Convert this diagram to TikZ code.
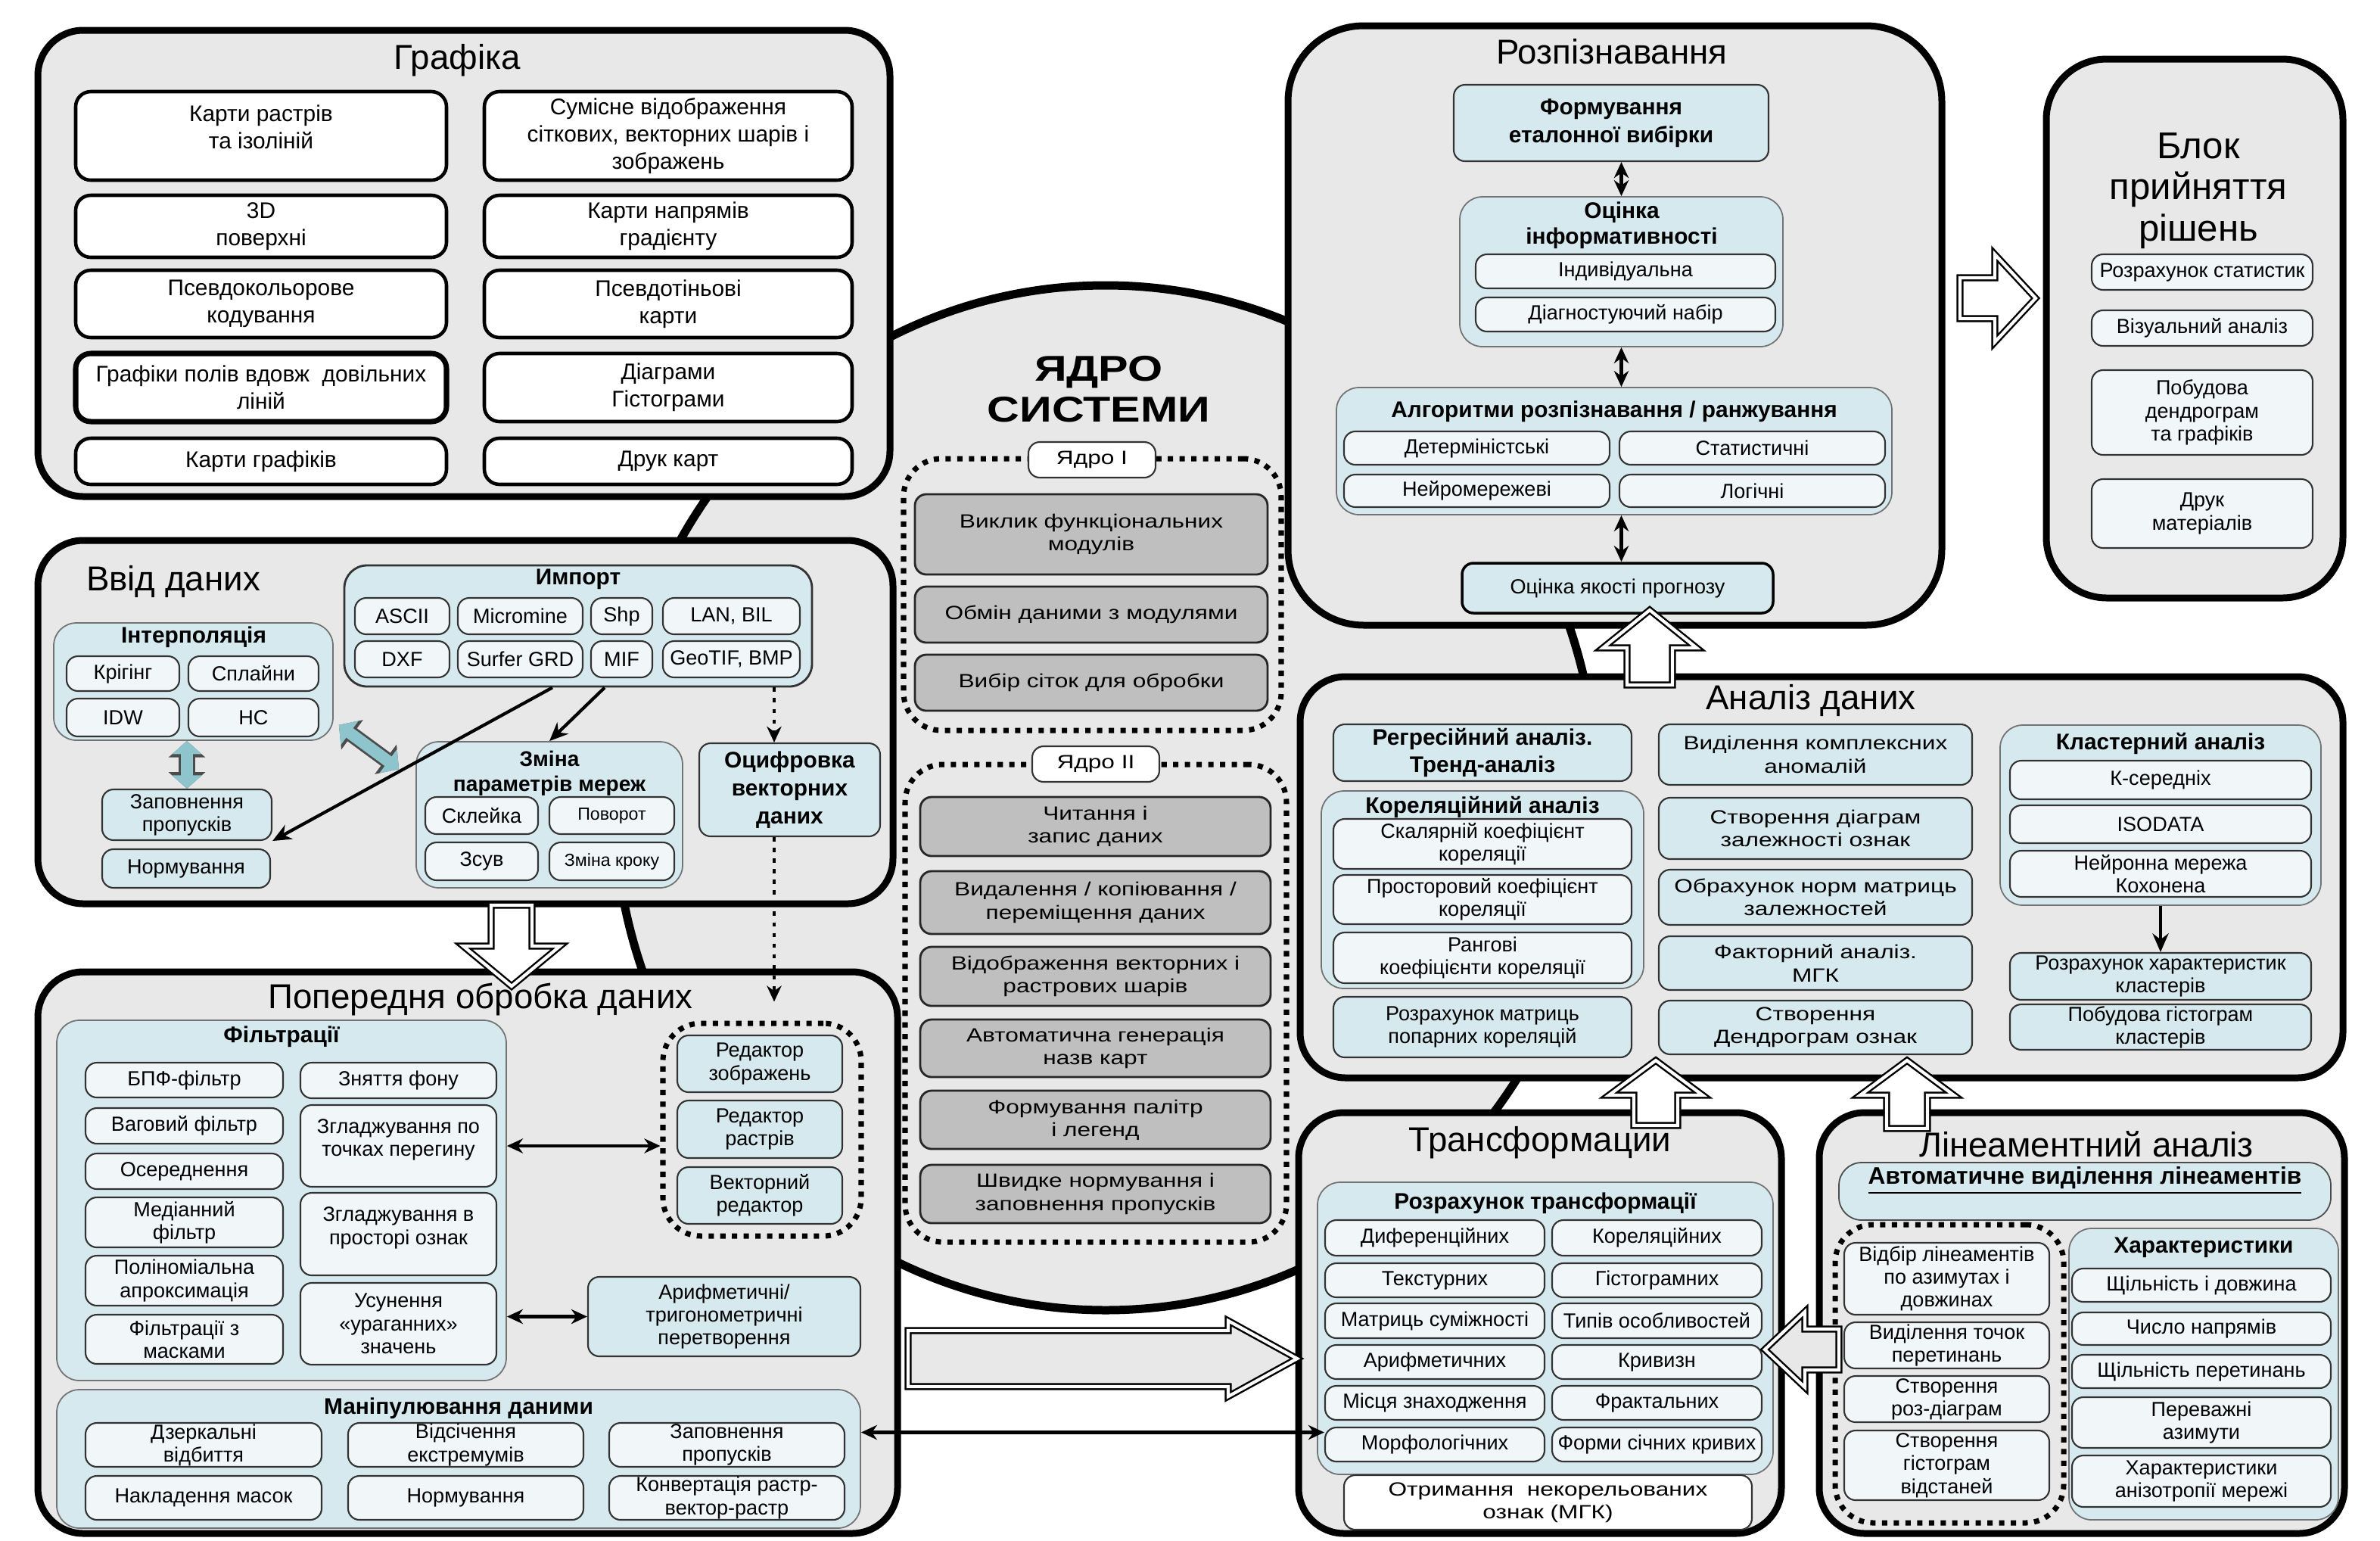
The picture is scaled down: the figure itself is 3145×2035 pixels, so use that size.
\documentclass[tikz,border=0pt]{standalone}
\usepackage{fontspec}
\setmainfont{Liberation Sans}
\newfontfamily\widefont[FakeStretch=1.25]{Liberation Sans}
\usetikzlibrary{arrows.meta,positioning,calc}

\definecolor{blockgray}{HTML}{E8E8E8}
\definecolor{tealbg}{HTML}{D5E9EE}
\definecolor{itembg}{HTML}{F1F7F9}
\definecolor{coregray}{HTML}{BFBFBF}
\definecolor{tealarr}{HTML}{8EC5CD}

\tikzset{
  xyspan/.style n args={4}{at={({(#1+#3)/2},{(#2+#4)/2})},
    minimum width={(#3-#1)*0.1mm}, minimum height={(#4-#2)*0.1mm}},
  block/.style={draw=black, line width=0.9mm, fill=blockgray, rounded corners=6mm, inner sep=0pt},
  ttl/.style={font=\fontsize{13}{15}\selectfont, inner sep=0pt},
  hd/.style={font=\bfseries\fontsize{8.5}{9.8}\selectfont, inner sep=0pt, align=center},
  gitem/.style={draw=black, line width=1.3pt, fill=white, rounded corners=2mm, inner sep=0pt,
    align=center, font=\fontsize{8.5}{10.2}\selectfont},
  grp/.style={draw=black!55, line width=0.5pt, fill=tealbg, rounded corners=3mm, inner sep=0pt},
  itm/.style={draw=black!80, line width=0.6pt, fill=itembg, rounded corners=1.5mm, inner sep=0pt,
    align=center, font=\fontsize{7.7}{8.6}\selectfont},
  tbx/.style={itm, fill=tealbg},
  wide/.style={font=\widefont\fontsize{7.2}{8.6}\selectfont},
  coreitm/.style={itm, wide, fill=coregray, draw=black!85, line width=0.8pt},
  dots/.style={draw=black, line width=2pt, dash pattern=on 2pt off 2.4pt, rounded corners=5mm, inner sep=0pt},
  arr/.style={line width=1.2pt, -{Stealth[length=7pt,width=6pt]}},
  darr/.style={line width=1.2pt, {Stealth[length=6pt,width=5.5pt]}-{Stealth[length=6pt,width=5.5pt]}},
  dotarr/.style={line width=1.2pt, dash pattern=on 1.6pt off 2.4pt, -{Stealth[length=6pt,width=5.5pt]}},
  hollow/.style={draw=black, line width=0.7pt, double=white, double distance=1.2pt, line join=miter},
  tealarrow/.style={draw=tealarr, line width=4.4pt,
    {Triangle[length=5pt,width=11pt]}-{Triangle[length=5pt,width=11pt]},
    preaction={draw=black!70, line width=6pt,
      {Triangle[length=6.2pt,width=13.5pt]}-{Triangle[length=6.2pt,width=13.5pt]}}},
}

\begin{document}
\begin{tikzpicture}[x=0.1mm, y=-0.1mm]
  \fill[white] (0,0) rectangle (3145,2035);
  \useasboundingbox (0,0) rectangle (3145,2035);

  % system core
  \draw[line width=1.1mm, fill=blockgray] (1461,1054) ellipse [x radius=65mm, y radius=67.7mm];

  % outer blocks
  \node[block, xyspan={50}{40}{1176}{656}] (graf) {};
  \node[block, xyspan={50}{714}{1180}{1194}] (vvid) {};
  \node[block, xyspan={50}{1284}{1186}{2026}] (pop) {};
  \node[block, rounded corners=10mm, xyspan={1702}{34}{2566}{826}] (rozp) {};
  \node[block, rounded corners=8mm, xyspan={2704}{78}{3096}{790}] (blok) {};
  \node[block, xyspan={1718}{894}{3096}{1424}] (anal) {};
  \node[block, xyspan={1716}{1470}{2354}{2026}] (trans) {};
  \node[block, xyspan={2404}{1470}{3098}{2026}] (lin) {};

  % core content
  \node[font=\widefont\bfseries\fontsize{13.5}{15.5}\selectfont, align=center, inner sep=0pt] (coreT) at (1452,514) {ЯДРО\\СИСТЕМИ};
  \node[dots, xyspan={1194}{606}{1693}{965}] (dI) {};
  \node[itm, wide, fill=white, xyspan={1359}{584}{1527}{631}] (dIl) {Ядро I};
  \node[coreitm, xyspan={1209}{653}{1675}{759}] (c1) {Виклик функціональних\\модулів};
  \node[coreitm, xyspan={1209}{775}{1675}{849}] (c2) {Обмін даними з модулями};
  \node[coreitm, xyspan={1209}{865}{1675}{939}] (c3) {Вибір сіток для обробки};
  \node[dots, xyspan={1196}{1010}{1700}{1641}] (dII) {};
  \node[itm, wide, fill=white, xyspan={1364}{986}{1532}{1033}] (dIIl) {Ядро II};
  \node[coreitm, xyspan={1216}{1053}{1679}{1131}] (c4) {Читання і\\запис даних};
  \node[coreitm, xyspan={1216}{1151}{1679}{1234}] (c5) {Видалення / копіювання /\\переміщення даних};
  \node[coreitm, xyspan={1216}{1251}{1679}{1329}] (c6) {Відображення векторних і\\растрових шарів};
  \node[coreitm, xyspan={1216}{1347}{1679}{1423}] (c7) {Автоматична генерація\\назв карт};
  \node[coreitm, xyspan={1216}{1441}{1679}{1518}] (c8) {Формування палітр\\і легенд};
  \node[coreitm, xyspan={1216}{1539}{1679}{1616}] (c9) {Швидке нормування і\\заповнення пропусків};

  % graphics
  \node[ttl] (grafT) at (604,80) {Графіка};
  \node[gitem, xyspan={100}{121}{590}{238}] (g1) {Карти растрів\\та ізоліній\\[-3.4pt]};
  \node[gitem, xyspan={640}{121}{1126}{238}] (g2) {Сумісне відображення\\сіткових, векторних шарів і\\зображень};
  \node[gitem, xyspan={100}{258}{590}{340}] (g3) {3D\\поверхні};
  \node[gitem, xyspan={640}{258}{1126}{340}] (g4) {Карти напрямів\\градієнту};
  \node[gitem, xyspan={100}{357}{590}{446}] (g5) {Псевдокольорове\\кодування};
  \node[gitem, xyspan={640}{357}{1126}{446}] (g6) {Псевдотіньові\\карти};
  \node[gitem, line width=2pt, xyspan={100}{467}{590}{557}] (g7) {Графіки полів вдовж~~довільних\\ліній};
  \node[gitem, xyspan={640}{467}{1126}{557}] (g8) {Діаграми\\Гістограми};
  \node[gitem, xyspan={100}{579}{590}{640}] (g9) {Карти графіків};
  \node[gitem, xyspan={640}{579}{1126}{640}] (g10) {Друк карт};

  % data input
  \node[ttl] (vvidT) at (229,768) {Ввід даних};
  \node[grp, draw=black!80, line width=0.8pt, xyspan={455}{747}{1073}{907}] (imp) {};
  \node[hd] (impT) at (764,765) {Импорт};
  \node[itm, xyspan={469}{790}{594}{838}] (i1) {ASCII};
  \node[itm, xyspan={605}{790}{770}{838}] (i2) {Micromine};
  \node[itm, xyspan={781}{790}{862}{838}] (i3) {Shp};
  \node[itm, xyspan={876}{790}{1057}{838}] (i4) {LAN, BIL};
  \node[itm, xyspan={469}{847}{594}{895}] (i5) {DXF};
  \node[itm, xyspan={605}{847}{770}{895}] (i6) {Surfer GRD};
  \node[itm, xyspan={781}{847}{862}{895}] (i7) {MIF};
  \node[itm, xyspan={876}{847}{1057}{895}] (i8) {GeoTIF, BMP};
  \node[grp, xyspan={71}{823}{440}{978}] (int) {};
  \node[hd] (intT) at (256,842) {Інтерполяція};
  \node[itm, xyspan={88}{867}{237}{913}] (k1) {Крігінг};
  \node[itm, xyspan={249}{867}{421}{913}] (k2) {Сплайни};
  \node[itm, xyspan={88}{923}{237}{973}] (k3) {IDW};
  \node[itm, xyspan={249}{923}{421}{973}] (k4) {НС};
  \node[tbx, xyspan={135}{1043}{359}{1110}] (zap) {Заповнення\\пропусків};
  \node[tbx, xyspan={135}{1122}{357}{1173}] (norm) {Нормування};
  \node[grp, xyspan={550}{980}{902}{1173}] (zm) {};
  \node[hd, font=\bfseries\fontsize{8}{9.5}\selectfont] (zmT) at (726,1022) {Зміна\\параметрів мереж};
  \node[itm, xyspan={562}{1053}{711}{1102}] (z1) {Склейка};
  \node[itm, font=\fontsize{6.6}{8}\selectfont, xyspan={726}{1053}{891}{1102}] (z2) {Поворот};
  \node[itm, xyspan={562}{1113}{711}{1163}] (z3) {Зсув};
  \node[itm, font=\fontsize{6.6}{8}\selectfont, xyspan={726}{1113}{891}{1163}] (z4) {Зміна кроку};
  \node[tbx, font=\bfseries\fontsize{8.5}{10.5}\selectfont, xyspan={924}{982}{1163}{1105}] (ocyf) {Оцифровка\\векторних\\даних};

  \draw[tealarrow] (int.south -| zap.north) -- (zap.north);
  \draw[tealarrow] ($(int.south east)+(7,-21)$) -- ($(zm.north west)+(-22,37)$);
  \draw[arr] ([xshift=-3.4mm]imp.south) -- (zap.south east);
  \draw[arr] ([xshift=3.5mm]imp.south) -- (zm.north);
  \coordinate (dtop) at ([xshift=25.9mm]imp.south);
  \draw[dotarr] (dtop) -- (dtop |- ocyf.north);

  % preprocessing
  \node[ttl] (popT) at (635,1320) {Попередня обробка даних};
  \node[grp, xyspan={75}{1348}{669}{1824}] (filt) {};
  \node[hd] (filtT) at (372,1370) {Фільтрації};
  \node[itm, xyspan={113}{1404}{374}{1450}] (f1) {БПФ-фільтр};
  \node[itm, xyspan={113}{1464}{374}{1511}] (f2) {Ваговий фільтр};
  \node[itm, xyspan={113}{1524}{374}{1571}] (f3) {Осереднення};
  \node[itm, xyspan={113}{1582}{374}{1648}] (f4) {Медіанний\\фільтр};
  \node[itm, xyspan={113}{1659}{374}{1725}] (f5) {Поліноміальна\\апроксимація};
  \node[itm, xyspan={113}{1737}{374}{1802}] (f6) {Фільтрації з\\масками};
  \node[itm, xyspan={397}{1404}{656}{1451}] (f7) {Зняття фону};
  \node[itm, xyspan={397}{1460}{656}{1568}] (f8) {Згладжування по\\точках перегину\\[-2.4pt]};
  \node[itm, xyspan={397}{1576}{656}{1685}] (f9) {Згладжування в\\просторі ознак\\[-2.4pt]};
  \node[itm, xyspan={397}{1695}{656}{1803}] (f10) {Усунення\\«ураганних»\\значень};
  \node[dots, xyspan={876}{1352}{1138}{1633}] (ed) {};
  \node[tbx, xyspan={895}{1368}{1113}{1443}] (e1) {Редактор\\зображень};
  \node[tbx, xyspan={895}{1454}{1113}{1530}] (e2) {Редактор\\растрів};
  \node[tbx, xyspan={895}{1542}{1113}{1617}] (e3) {Векторний\\редактор};
  \node[tbx, xyspan={777}{1687}{1137}{1792}] (ar) {Арифметичні/\\тригонометричні\\перетворення};
  \node[grp, xyspan={75}{1836}{1137}{2019}] (man) {};
  \node[hd] (manT) at (606,1861) {Маніпулювання даними};
  \node[itm, xyspan={113}{1880}{425}{1938}] (m1) {Дзеркальні\\відбиття};
  \node[itm, xyspan={460}{1880}{771}{1938}] (m2) {Відсічення\\екстремумів};
  \node[itm, xyspan={805}{1880}{1116}{1938}] (m3) {Заповнення\\пропусків};
  \node[itm, xyspan={113}{1950}{425}{2008}] (m4) {Накладення масок};
  \node[itm, xyspan={460}{1950}{771}{2008}] (m5) {Нормування};
  \node[itm, xyspan={805}{1950}{1116}{2008}] (m6) {Конвертація растр-\\вектор-растр};

  \draw[dotarr] (dtop |- ocyf.south) -- ($(dtop |- ed.north)+(0,-25)$);
  \draw[darr] (f8 -| filt.east) -- (f8 -| ed.west);
  \draw[darr] (ar -| filt.east) -- (ar.west);

  % recognition
  \node[ttl] (rozpT) at (2130,68) {Розпізнавання};
  \node[tbx, font=\bfseries\fontsize{8.5}{10.5}\selectfont, xyspan={1921}{112}{2337}{213}] (r1) {Формування\\еталонної вибірки};
  \node[grp, xyspan={1929}{260}{2356}{458}] (ocn) {};
  \node[hd] (ocnT) at (2143,298) {Оцінка\\інформативності};
  \node[itm, xyspan={1950}{336}{2346}{381}] (r2) {Індивідуальна};
  \node[itm, xyspan={1950}{393}{2346}{438}] (r3) {Діагностуючий набір};
  \node[grp, xyspan={1766}{512}{2500}{680}] (alg) {};
  \node[hd] (algT) at (2133,544) {Алгоритми розпізнавання / ранжування};
  \node[itm, xyspan={1776}{570}{2127}{614}] (r4) {Детерміністські};
  \node[itm, xyspan={2140}{570}{2491}{614}] (r5) {Статистичні};
  \node[itm, xyspan={1776}{627}{2127}{670}] (r6) {Нейромережеві};
  \node[itm, xyspan={2140}{627}{2491}{670}] (r7) {Логічні};
  \node[tbx, draw=black, line width=1pt, xyspan={1932}{744}{2343}{810}] (r8) {Оцінка якості прогнозу};
  \draw[darr] (ocn.north) -- (ocn.north |- r1.south);
  \draw[darr] (ocn.south) -- (ocn.south |- alg.north);
  \draw[darr] (alg.south -| ocn.south) -- (r8.north -| ocn.south);

  % decision block
  \node[font=\fontsize{14}{15.6}\selectfont, align=center, inner sep=0pt] (blokT) at (2905,252) {Блок\\прийняття\\рішень};
  \node[itm, xyspan={2764}{336}{3056}{383}] (b1) {Розрахунок статистик};
  \node[itm, xyspan={2764}{410}{3056}{457}] (b2) {Візуальний аналіз};
  \node[itm, xyspan={2764}{489}{3056}{601}] (b3) {Побудова\\дендрограм\\та графіків};
  \node[itm, xyspan={2764}{633}{3056}{724}] (b4) {Друк\\матеріалів};

  % data analysis
  \node[ttl] (analT) at (2393,925) {Аналіз даних};
  \node[tbx, font=\bfseries\fontsize{8.5}{10.5}\selectfont, xyspan={1762}{957}{2156}{1032}] (a1) {Регресійний аналіз.\\Тренд-аналіз};
  \node[grp, xyspan={1746}{1045}{2172}{1306}] (kor) {};
  \node[hd] (korT) at (1959,1066) {Кореляційний аналіз};
  \node[itm, xyspan={1762}{1082}{2156}{1148}] (a2) {Скалярній коефіцієнт\\кореляції};
  \node[itm, xyspan={1762}{1156}{2156}{1221}] (a3) {Просторовий коефіцієнт\\кореляції};
  \node[itm, xyspan={1762}{1232}{2156}{1299}] (a4) {Рангові\\коефіцієнти кореляції};
  \node[tbx, xyspan={1762}{1317}{2156}{1397}] (a5) {Розрахунок матриць\\попарних кореляцій};
  \node[tbx, wide, xyspan={2192}{957}{2606}{1037}] (a6) {Виділення комплексних\\аномалій};
  \node[tbx, wide, xyspan={2192}{1054}{2606}{1135}] (a7) {Створення діаграм\\залежності ознак};
  \node[tbx, wide, xyspan={2192}{1149}{2606}{1222}] (a8) {Обрахунок норм матриць\\залежностей};
  \node[tbx, wide, xyspan={2192}{1237}{2606}{1308}] (a9) {Факторний аналіз.\\МГК};
  \node[tbx, wide, xyspan={2192}{1322}{2606}{1393}] (a10) {Створення\\Дендрограм ознак};
  \node[grp, xyspan={2643}{958}{3067}{1196}] (kl) {};
  \node[hd] (klT) at (2855,982) {Кластерний аналіз};
  \node[itm, xyspan={2656}{1005}{3054}{1056}] (a11) {К-середніх};
  \node[itm, xyspan={2656}{1064}{3054}{1114}] (a12) {ISODATA};
  \node[itm, xyspan={2656}{1124}{3054}{1185}] (a13) {Нейронна мережа\\Кохонена};
  \node[tbx, xyspan={2656}{1259}{3054}{1321}] (a14) {Розрахунок характеристик\\кластерів};
  \node[tbx, xyspan={2656}{1327}{3054}{1387}] (a15) {Побудова гістограм\\кластерів};
  \draw[arr] (kl.south) -- (a14.north);

  % transformations
  \node[ttl] (transT) at (2035,1510) {Трансформации};
  \node[grp, xyspan={1741}{1562}{2343}{1948}] (rt) {};
  \node[hd] (rtT) at (2042,1590) {Розрахунок трансформації};
  \node[itm, xyspan={1751}{1612}{2041}{1659}] (t1) {Диференційних};
  \node[itm, xyspan={2051}{1612}{2328}{1659}] (t2) {Кореляційних};
  \node[itm, xyspan={1751}{1669}{2041}{1714}] (t3) {Текстурних};
  \node[itm, xyspan={2051}{1669}{2328}{1714}] (t4) {Гістограмних};
  \node[itm, xyspan={1751}{1722}{2041}{1768}] (t5) {Матриць суміжності};
  \node[itm, xyspan={2051}{1722}{2328}{1768}] (t6) {Типів особливостей};
  \node[itm, xyspan={1751}{1777}{2041}{1822}] (t7) {Арифметичних};
  \node[itm, xyspan={2051}{1777}{2328}{1822}] (t8) {Кривизн};
  \node[itm, xyspan={1751}{1831}{2041}{1876}] (t9) {Місця знаходження};
  \node[itm, xyspan={2051}{1831}{2328}{1876}] (t10) {Фрактальних};
  \node[itm, xyspan={1751}{1886}{2041}{1931}] (t11) {Морфологічних};
  \node[itm, xyspan={2051}{1886}{2328}{1931}] (t12) {Форми січних кривих};
  \node[itm, wide, fill=white, xyspan={1776}{1949}{2315}{2021}] (t13) {Отримання~~некорельованих\\ознак (МГК)};

  % lineament analysis
  \node[ttl] (linT) at (2757,1512) {Лінеаментний аналіз};
  \node[grp, draw=black!70, xyspan={2430}{1536}{3080}{1612}] (l0) {};
  \node[hd, font=\bfseries\fontsize{9}{10}\selectfont] (l0T) at (2755,1560) {\underline{Автоматичне виділення лінеаментів}};
  \node[dots, xyspan={2425}{1618}{2727}{2012}] (ld) {};
  \node[itm, xyspan={2437}{1642}{2708}{1737}] (l1) {Відбір лінеаментів\\по азимутах і\\довжинах};
  \node[itm, xyspan={2437}{1747}{2708}{1808}] (l2) {Виділення точок\\перетинань};
  \node[itm, xyspan={2437}{1818}{2708}{1879}] (l3) {Створення\\роз-діаграм};
  \node[itm, xyspan={2437}{1890}{2708}{1982}] (l4) {Створення\\гістограм\\відстаней};
  \node[grp, xyspan={2734}{1623}{3090}{2008}] (ch) {};
  \node[hd] (chT) at (2912,1648) {Характеристики};
  \node[itm, xyspan={2738}{1676}{3080}{1720}] (l5) {Щільність і довжина};
  \node[itm, xyspan={2738}{1734}{3080}{1777}] (l6) {Число напрямів};
  \node[itm, xyspan={2738}{1790}{3080}{1834}] (l7) {Щільність перетинань};
  \node[itm, xyspan={2738}{1846}{3080}{1913}] (l8) {Переважні\\азимути};
  \node[itm, xyspan={2738}{1923}{3080}{1991}] (l9) {Характеристики\\анізотропії мережі};

  % links between blocks
  \draw[darr] ([yshift=1.6mm]t11.west -| man.east) -- ([yshift=1.6mm]t11.west);
  \draw[hollow, fill=white] (649,1196) -- (649,1250) -- (612,1250) -- (676,1303) -- (740,1250) -- (703,1250) -- (703,1196) -- cycle;
  \draw[hollow, fill=blockgray] (1200,1758) -- (1623,1758) -- (1623,1745) -- (1714,1795) -- (1623,1845) -- (1623,1832) -- (1200,1832) -- cycle;
  \draw[hollow, fill=white] (2150,905) -- (2150,856) -- (2118,856) -- (2180,806) -- (2242,856) -- (2210,856) -- (2210,905) -- cycle;
  \draw[hollow, fill=white] (2159,1487) -- (2159,1447) -- (2126,1447) -- (2188,1401) -- (2250,1447) -- (2217,1447) -- (2217,1487) -- cycle;
  \draw[hollow, fill=white] (2493,1491) -- (2493,1447) -- (2458,1447) -- (2520,1401) -- (2582,1447) -- (2547,1447) -- (2547,1491) -- cycle;
  \draw[hollow, fill=blockgray] (2430,1756) -- (2385,1756) -- (2385,1733) -- (2332,1783) -- (2385,1833) -- (2385,1810) -- (2430,1810) -- cycle;
  \draw[hollow, fill=white] (2590,367) -- (2636,367) -- (2636,336) -- (2690,394) -- (2636,452) -- (2636,421) -- (2590,421) -- cycle;
\end{tikzpicture}
\end{document}
